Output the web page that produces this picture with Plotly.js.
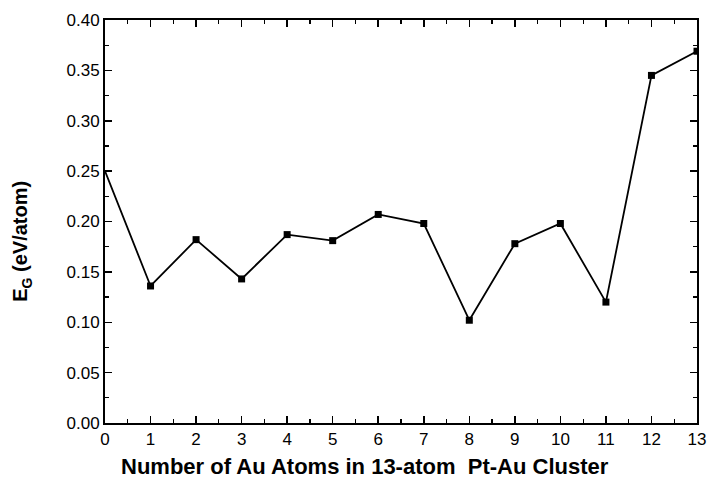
<!DOCTYPE html>
<html>
<head>
<meta charset="utf-8">
<script src="https://cdn.plot.ly/plotly-3.0.1.min.js"></script>
<style>
  html, body { margin: 0; padding: 0; background: #fff; }
  #chart { width: 710px; height: 482px; }
</style>
</head>
<body>
<div id="chart"></div>
<script>
// Number of Au atoms in the 13-atom Pt-Au cluster
const auAtoms = [0, 1, 2, 3, 4, 5, 6, 7, 8, 9, 10, 11, 12, 13];
// Gap energy E_G (eV/atom)
const gapEnergy = [0.250, 0.136, 0.182, 0.143, 0.187, 0.181, 0.207, 0.198, 0.102, 0.178, 0.198, 0.120, 0.345, 0.369];

const xTickVals = [0, 1, 2, 3, 4, 5, 6, 7, 8, 9, 10, 11, 12, 13];
const yTickVals = [0, 0.05, 0.10, 0.15, 0.20, 0.25, 0.30, 0.35, 0.40];

const xTitle = 'Number of Au Atoms in 13-atom  Pt-Au Cluster';
const yTitle = 'E<sub>G</sub> (eV/atom)';

const fontFamily = 'Liberation Sans, Arial, sans-serif';
const axisFont = { family: fontFamily, size: 17, color: '#000' };

const traces = [
  {
    x: auAtoms,
    y: gapEnergy,
    type: 'scatter',
    mode: 'lines',
    line: { color: '#000', width: 1.8 },
    hoverinfo: 'skip',
    showlegend: false
  },
  {
    // the pure-Pt end point sits on the frame and carries no symbol
    x: auAtoms.slice(1),
    y: gapEnergy.slice(1),
    type: 'scatter',
    mode: 'markers',
    marker: { symbol: 'square', size: 7, color: '#000', line: { width: 0 } },
    showlegend: false
  }
];

const layout = {
  width: 710,
  height: 482,
  margin: { l: 105, r: 13, t: 20, b: 59 },
  paper_bgcolor: '#fff',
  plot_bgcolor: '#fff',
  font: axisFont,
  xaxis: {
    range: [0, 13],
    tickvals: xTickVals,
    ticktext: xTickVals.map(v => String(v)),
    ticks: 'inside',
    ticklen: 7,
    tickwidth: 1.5,
    tickcolor: '#000',
    minor: { dtick: 0.5, ticks: 'inside', ticklen: 4, tickwidth: 1.2, tickcolor: '#000' },
    showline: true,
    linecolor: '#000',
    linewidth: 2,
    mirror: 'ticks',
    showgrid: false,
    zeroline: false,
    tickfont: axisFont
  },
  yaxis: {
    range: [0, 0.40],
    tickvals: yTickVals,
    ticktext: yTickVals.map(v => v.toFixed(2)),
    ticks: 'inside',
    ticklen: 7,
    tickwidth: 1.5,
    tickcolor: '#000',
    minor: { dtick: 0.025, ticks: 'inside', ticklen: 4, tickwidth: 1.2, tickcolor: '#000' },
    showline: true,
    linecolor: '#000',
    linewidth: 2,
    mirror: 'ticks',
    showgrid: false,
    zeroline: false,
    tickfont: axisFont
  },
  // axis titles placed as paper annotations so they can sit off-centre
  annotations: [
    {
      text: xTitle,
      xref: 'paper', yref: 'paper',
      x: 0.439, y: -0.109,
      xanchor: 'center', yanchor: 'middle',
      showarrow: false,
      font: { family: fontFamily, size: 22, color: '#000', weight: 'bold' }
    },
    {
      text: yTitle,
      xref: 'paper', yref: 'paper',
      x: -0.140, y: 0.45,
      xanchor: 'center', yanchor: 'middle',
      textangle: -90,
      showarrow: false,
      font: { family: fontFamily, size: 20, color: '#000', weight: 'bold' }
    }
  ]
};

Plotly.newPlot('chart', traces, layout, { staticPlot: true, displayModeBar: false });
</script>
</body>
</html>
